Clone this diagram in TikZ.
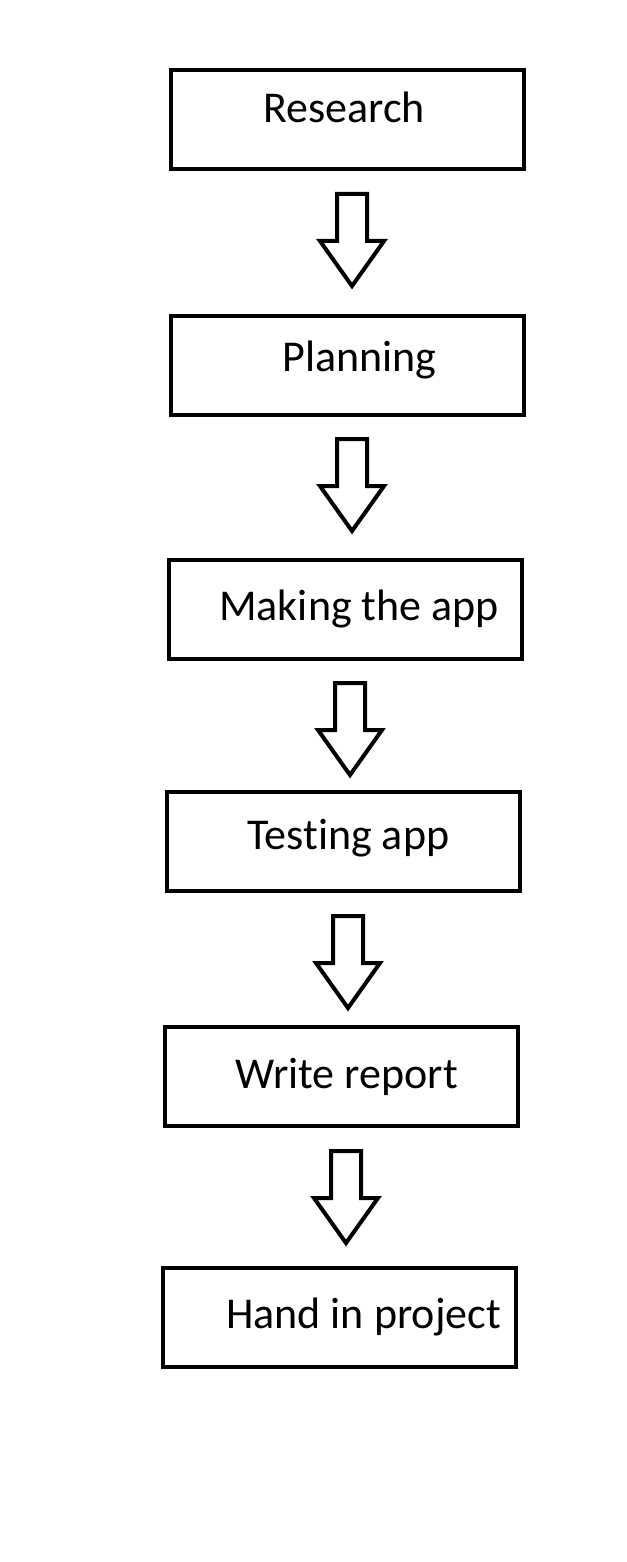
\documentclass[tikz,border=0pt]{standalone}
\usepackage{fontspec}
\setmainfont{Carlito}[Ligatures=NoCommon]
\usepackage{tikz}
\usetikzlibrary{positioning, calc}

\tikzset{
    stepbox/.style={draw=black, line width=3pt, rectangle, minimum width=353*0.75pt, minimum height=99*0.75pt, inner sep=0pt},
    steplabel/.style={anchor=base west, inner sep=0pt, font=\fontsize{33}{39}\selectfont},
    blockarrow/.style={draw=black, line width=3pt, line join=miter, fill=white}
}

\begin{document}
\begin{tikzpicture}[x=0.75pt, y=-0.75pt]
    \useasboundingbox (0,0) rectangle (626,1562);
    \foreach \i/\x/\y/\tx/\ty/\lbl in {1/347.5/120/263/123/Research, 2/347.5/365/282/371/Planning, 3/345/609/219/620/Making the app, 4/343.5/841.5/247/849/Testing app, 5/341.5/1076.5/235/1088/Write report, 6/339.5/1317/226/1328/Hand in project} {
        \node[stepbox] (box\i) at (\x,\y) {};
        \node[steplabel] (lbl\i) at (\tx,\ty) {\lbl};
    }
    % Hollow arrows between the steps
    \foreach \i/\x/\y in {1/352/194, 2/352/439, 3/350/683, 4/348/916, 5/346/1151} {
        \coordinate (arr\i) at (\x,\y);
        \draw[blockarrow] ($(arr\i)+(-15,0)$) -- ++(30,0) -- ++(0,47) -- ++(17,0) -- ++(-32,45) -- ++(-32,-45) -- ++(17,0) -- cycle;
    }
\end{tikzpicture}
\end{document}
